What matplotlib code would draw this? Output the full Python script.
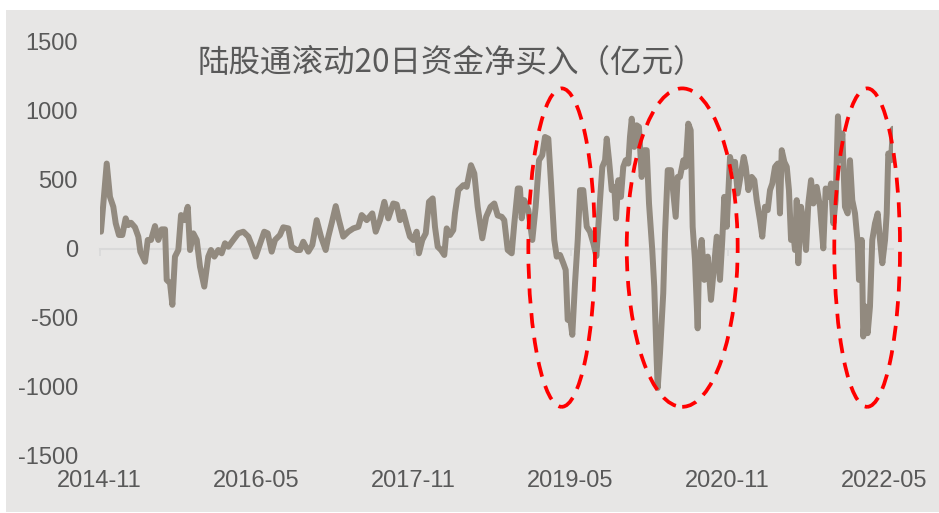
import matplotlib
matplotlib.use("Agg")
import matplotlib.pyplot as plt
from matplotlib.patches import Rectangle, Ellipse

plt.rcParams['font.family'] = ['Liberation Sans', 'Noto Sans CJK SC', 'DejaVu Sans']

# ---------------- data (decimal year, 亿元) ----------------
t = [2014.889, 2014.944, 2014.975, 2015.007, 2015.030, 2015.061, 2015.093, 2015.125, 2015.150, 2015.176,
     2015.214, 2015.246, 2015.265, 2015.310, 2015.336, 2015.367, 2015.405, 2015.437, 2015.469, 2015.501,
     2015.517, 2015.549, 2015.571, 2015.596, 2015.628, 2015.654, 2015.685, 2015.718, 2015.740, 2015.771,
     2015.804, 2015.835, 2015.876, 2015.914, 2015.940, 2015.972, 2016.010, 2016.042, 2016.074, 2016.106,
     2016.153, 2016.201, 2016.249, 2016.297, 2016.335, 2016.367, 2016.399, 2016.449, 2016.482, 2016.520,
     2016.552, 2016.599, 2016.631, 2016.679, 2016.711, 2016.759, 2016.791, 2016.822, 2016.870, 2016.908,
     2016.950, 2016.991, 2017.036, 2017.061, 2017.093, 2017.132, 2017.163, 2017.204, 2017.252, 2017.300,
     2017.348, 2017.380, 2017.428, 2017.481, 2017.514, 2017.555, 2017.596, 2017.634, 2017.682, 2017.714,
     2017.746, 2017.777, 2017.810, 2017.841, 2017.873, 2017.905, 2017.927, 2017.959, 2017.992, 2018.023,
     2018.058, 2018.080, 2018.106, 2018.138, 2018.169, 2018.192, 2018.224, 2018.255, 2018.271, 2018.303,
     2018.351, 2018.383, 2018.424, 2018.456, 2018.488, 2018.532, 2018.569, 2018.611, 2018.647, 2018.679,
     2018.718, 2018.742, 2018.775, 2018.813, 2018.838, 2018.871, 2018.892, 2018.909, 2018.933, 2018.972,
     2019.010, 2019.042, 2019.074, 2019.105, 2019.131, 2019.163, 2019.189, 2019.220, 2019.243, 2019.275,
     2019.306, 2019.329, 2019.348, 2019.370, 2019.392, 2019.418, 2019.444, 2019.466, 2019.497, 2019.530,
     2019.561, 2019.593, 2019.622, 2019.657, 2019.679, 2019.705, 2019.721, 2019.743, 2019.769, 2019.793,
     2019.810, 2019.832, 2019.857, 2019.879, 2019.902, 2019.927, 2019.943, 2019.960, 2019.984, 2020.007,
     2020.029, 2020.055, 2020.080, 2020.103, 2020.125, 2020.156, 2020.175, 2020.198, 2020.208, 2020.230,
     2020.261, 2020.278, 2020.304, 2020.335, 2020.357, 2020.380, 2020.399, 2020.421, 2020.453, 2020.475,
     2020.500, 2020.523, 2020.542, 2020.564, 2020.590, 2020.603, 2020.628, 2020.653, 2020.686, 2020.717,
     2020.749, 2020.772, 2020.803, 2020.825, 2020.844, 2020.867, 2020.899, 2020.921, 2020.947, 2020.972,
     2021.004, 2021.030, 2021.049, 2021.074, 2021.106, 2021.131, 2021.154, 2021.185, 2021.207, 2021.233,
     2021.259, 2021.281, 2021.303, 2021.329, 2021.355, 2021.376, 2021.393, 2021.418, 2021.441, 2021.462,
     2021.482, 2021.504, 2021.520, 2021.536, 2021.551, 2021.577, 2021.599, 2021.625, 2021.647, 2021.673,
     2021.695, 2021.727, 2021.759, 2021.790, 2021.813, 2021.838, 2021.864, 2021.886, 2021.908, 2021.930,
     2021.950, 2021.972, 2021.997, 2022.023, 2022.045, 2022.067, 2022.093, 2022.119, 2022.131, 2022.157,
     2022.172, 2022.195, 2022.214, 2022.236, 2022.258, 2022.284, 2022.310, 2022.332, 2022.354, 2022.380,
     2022.396, 2022.411, 2022.437, 2022.456]

net_buy = [122, 617, 375, 303, 183, 98, 98, 219, 170, 187,
           154, 86, -23, -96, 62, 62, 163, 62, 139, 139,
           -228, -252, -409, -59, -11, 243, 206, 303, -11, 110,
           62, -132, -277, -59, -11, -59, -11, -35, 38, 13,
           62, 110, 122, 86, 13, -59, 13, 122, 110, -23,
           62, 98, 154, 146, 13, -11, -11, 49, -23, 25,
           206, 86, -11, 86, 183, 308, 206, 86, 122, 146,
           158, 243, 206, 255, 122, 206, 339, 219, 327, 320,
           206, 267, 170, 86, 62, 122, -35, 62, 110, 339,
           364, 158, 13, -11, -47, 146, 98, 134, 255, 424,
           460, 448, 605, 545, 303, 74, 230, 303, 327, 240,
           230, 206, -11, -35, 183, 436, 436, 219, 351, 279,
           62, 303, 641, 677, 810, 798, 472, 62, -59, -47,
           -107, -156, -518, -494, -627, -252, 62, 424, 424, 158,
           122, 38, -55, 351, 593, 641, 798, 641, 424, 448,
           219, 496, 375, 593, 641, 617, 810, 943, 738, 895,
           883, 520, 714, 714, 327, -11, -277, -808, -1013, -760,
           -325, 110, 569, 569, 400, 230, 520, 520, 641, 593,
           907, 859, 158, -83, -580, -83, 62, -228, -59, -373,
           -107, 86, -228, 62, 375, 158, 665, 593, 629, 400,
           545, 665, 593, 424, 520, 496, 351, 206, 86, 303,
           279, 424, 472, 593, 617, 255, 714, 629, 593, 424,
           62, 110, -11, 351, -107, 303, 206, -11, 327, 496,
           327, 448, 303, 1, 436, 375, 472, 183, 351, 960,
           641, 835, 303, 255, 641, 351, 255, 38, -228, 62,
           -639, -422, -615, -422, 62, 183, 255, 62, -107, 62,
           255, 690, 641, 870]

tick_t = [2014.875, 2016.375, 2017.875, 2019.375, 2020.875, 2022.375]
tick_labels = ['2014-11', '2016-05', '2017-11', '2019-05', '2020-11', '2022-05']
y_ticks = [-1500, -1000, -500, 0, 500, 1000, 1500]
y_labels = ['-1500', '-1000', '-500', '0', '500', '1000', '1500']

# highlighted periods (start, end) and value span of the dashed ellipses
highlight_periods = [(2018.972, 2019.609), (2019.912, 2020.972), (2021.895, 2022.523)]
highlight_span = (-1150, 1163)

title = '陆股通滚动20日资金净买入（亿元）'

# ---------------- styling ----------------
W, H = 939, 513
panel_color = '#e7e6e5'
line_color = '#928a7f'
text_color = '#595959'
axis_color = '#d9d9d9'

fig = plt.figure(figsize=(W / 100, H / 100), dpi=100)
fig.patch.set_facecolor('white')
fig.patches.append(Rectangle((6 / W, 1 / H), 1 - 6 / W, (512 - 10) / H,
                             transform=fig.transFigure, facecolor=panel_color,
                             edgecolor='none', zorder=-10))

ax = fig.add_axes([99.5 / W, 1 - 455 / H, (893 - 99.5) / W, (455 - 42) / H])
ax.set_facecolor('none')
for s in ax.spines.values():
    s.set_visible(False)

ax.plot(t, net_buy, color=line_color, lw=4.3, solid_joinstyle='round',
        solid_capstyle='round', zorder=3)

ax.set_xlim(2014.875, 2022.456)
ax.set_ylim(-1500, 1500)

ax.set_xticks(tick_t)
ax.set_xticklabels(tick_labels)
ax.set_yticks(y_ticks)
ax.set_yticklabels(y_labels)
ax.tick_params(axis='x', length=0, pad=11, labelsize=17, labelcolor=text_color)
ax.tick_params(axis='y', length=0, pad=15.5, labelsize=17, labelcolor=text_color)

# zero axis line with tick marks
sec = ax.secondary_xaxis(0.5)
sec.set_alignment('bottom')
sec.set_xticks(tick_t)
sec.tick_params(axis='x', labelbottom=False, labeltop=False, length=5, width=1.2,
                color=axis_color, direction='out')
for s in sec.spines.values():
    s.set_color(axis_color)
    s.set_linewidth(1.5)

# dashed red ellipses
lo, hi = highlight_span
for a, b in highlight_periods:
    e = Ellipse(((a + b) / 2, (lo + hi) / 2), b - a, hi - lo, fill=False,
                edgecolor='#ff0000', lw=2.7, linestyle=(0, (4, 2.6)),
                clip_on=False, zorder=4)
    ax.add_patch(e)

fig.text(451 / W, 1 - 63 / H, title, ha='center', va='center', fontsize=22.7,
         color=text_color, family=['Noto Sans CJK SC', 'DejaVu Sans'])

fig.savefig('out.png', dpi=100, facecolor=fig.get_facecolor())
